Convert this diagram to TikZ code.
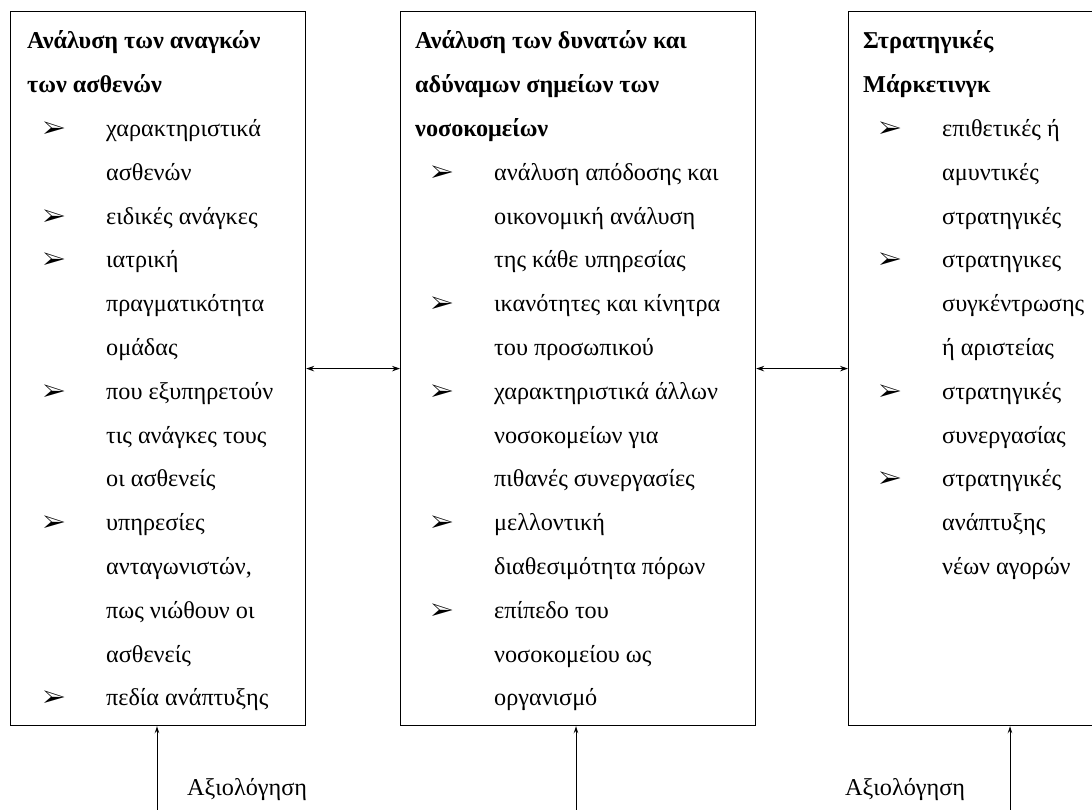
\documentclass[tikz,border=0pt]{standalone}
\usepackage{fontspec}
\setmainfont{Liberation Serif}
\usepackage{pifont}
\usetikzlibrary{arrows.meta}

\tikzset{
  panel/.style={draw, line width=1.2pt, anchor=north west, minimum height=714pt, inner sep=0pt},
  panetext/.style={anchor=base west, inner sep=0pt},
  link/.style={line width=1pt, {Stealth[length=8pt,width=5.5pt]}-{Stealth[length=8pt,width=5.5pt]}},
  feed/.style={line width=1pt, -{Stealth[length=7pt,width=4.5pt]}},
  evallabel/.style={anchor=base west, inner sep=0pt, font=\fontsize{24.2}{28}\selectfont}
}
\newcommand{\itemline}[1]{\hspace*{16pt}\makebox[63pt][l]{\ding{226}}#1}
\newcommand{\contline}[1]{\hspace*{79pt}#1}
\newcommand{\panefont}{\fontsize{24.2}{43.8}\selectfont\raggedright}

\begin{document}
\begin{tikzpicture}[x=1pt,y=-1pt]
\useasboundingbox (0,0) rectangle (1092,810);
\clip (0,0) rectangle (1092,810);

% three boxes
\node[panel, minimum width=295pt] (needs) at (10,11) {};
\node[panel, minimum width=355pt] (strengths) at (400,11) {};
\node[panel, minimum width=300pt] (strategy) at (848,11) {};

\node[panetext] (needstext) at (27,49) {\parbox[t]{275pt}{\panefont
\textbf{Ανάλυση των αναγκών}\\
\textbf{των ασθενών}\\
\itemline{χαρακτηριστικά}\\
\contline{ασθενών}\\
\itemline{ειδικές ανάγκες}\\
\itemline{ιατρική}\\
\contline{πραγματικότητα}\\
\contline{ομάδας}\\
\itemline{που εξυπηρετούν}\\
\contline{τις ανάγκες τους}\\
\contline{οι ασθενείς}\\
\itemline{υπηρεσίες}\\
\contline{ανταγωνιστών,}\\
\contline{πως νιώθουν οι}\\
\contline{ασθενείς}\\
\itemline{πεδία ανάπτυξης}}};

\node[panetext] (strengthstext) at (415,49) {\parbox[t]{335pt}{\panefont
\textbf{Ανάλυση των δυνατών και}\\
\textbf{αδύναμων σημείων των}\\
\textbf{νοσοκομείων}\\
\itemline{ανάλυση απόδοσης και}\\
\contline{οικονομική ανάλυση}\\
\contline{της κάθε υπηρεσίας}\\
\itemline{ικανότητες και κίνητρα}\\
\contline{του προσωπικού}\\
\itemline{χαρακτηριστικά άλλων}\\
\contline{νοσοκομείων για}\\
\contline{πιθανές συνεργασίες}\\
\itemline{μελλοντική}\\
\contline{διαθεσιμότητα πόρων}\\
\itemline{επίπεδο του}\\
\contline{νοσοκομείου ως}\\
\contline{οργανισμό}}};

\node[panetext] (strategytext) at (863,49) {\parbox[t]{260pt}{\panefont
\textbf{Στρατηγικές}\\
\textbf{Μάρκετινγκ}\\
\itemline{επιθετικές ή}\\
\contline{αμυντικές}\\
\contline{στρατηγικές}\\
\itemline{στρατηγικες}\\
\contline{συγκέντρωσης}\\
\contline{ή αριστείας}\\
\itemline{στρατηγικές}\\
\contline{συνεργασίας}\\
\itemline{στρατηγικές}\\
\contline{ανάπτυξης}\\
\contline{νέων αγορών}}};

% links between boxes
\draw[link] (needs) -- (strengths);
\draw[link] (strengths) -- (strategy);

% evaluation feeds from below
\coordinate (feedleft) at (157,812);
\coordinate (feedmid) at (576,812);
\coordinate (feedright) at (1010,812);
\draw[feed] (feedleft) -- (feedleft |- needs.south);
\draw[feed] (feedmid) -- (feedmid |- strengths.south);
\draw[feed] (feedright) -- (feedright |- strategy.south);

\node[evallabel] (evalleft) at (187,795) {Αξιολόγηση};
\node[evallabel] (evalright) at (845,795) {Αξιολόγηση};
\end{tikzpicture}
\end{document}
